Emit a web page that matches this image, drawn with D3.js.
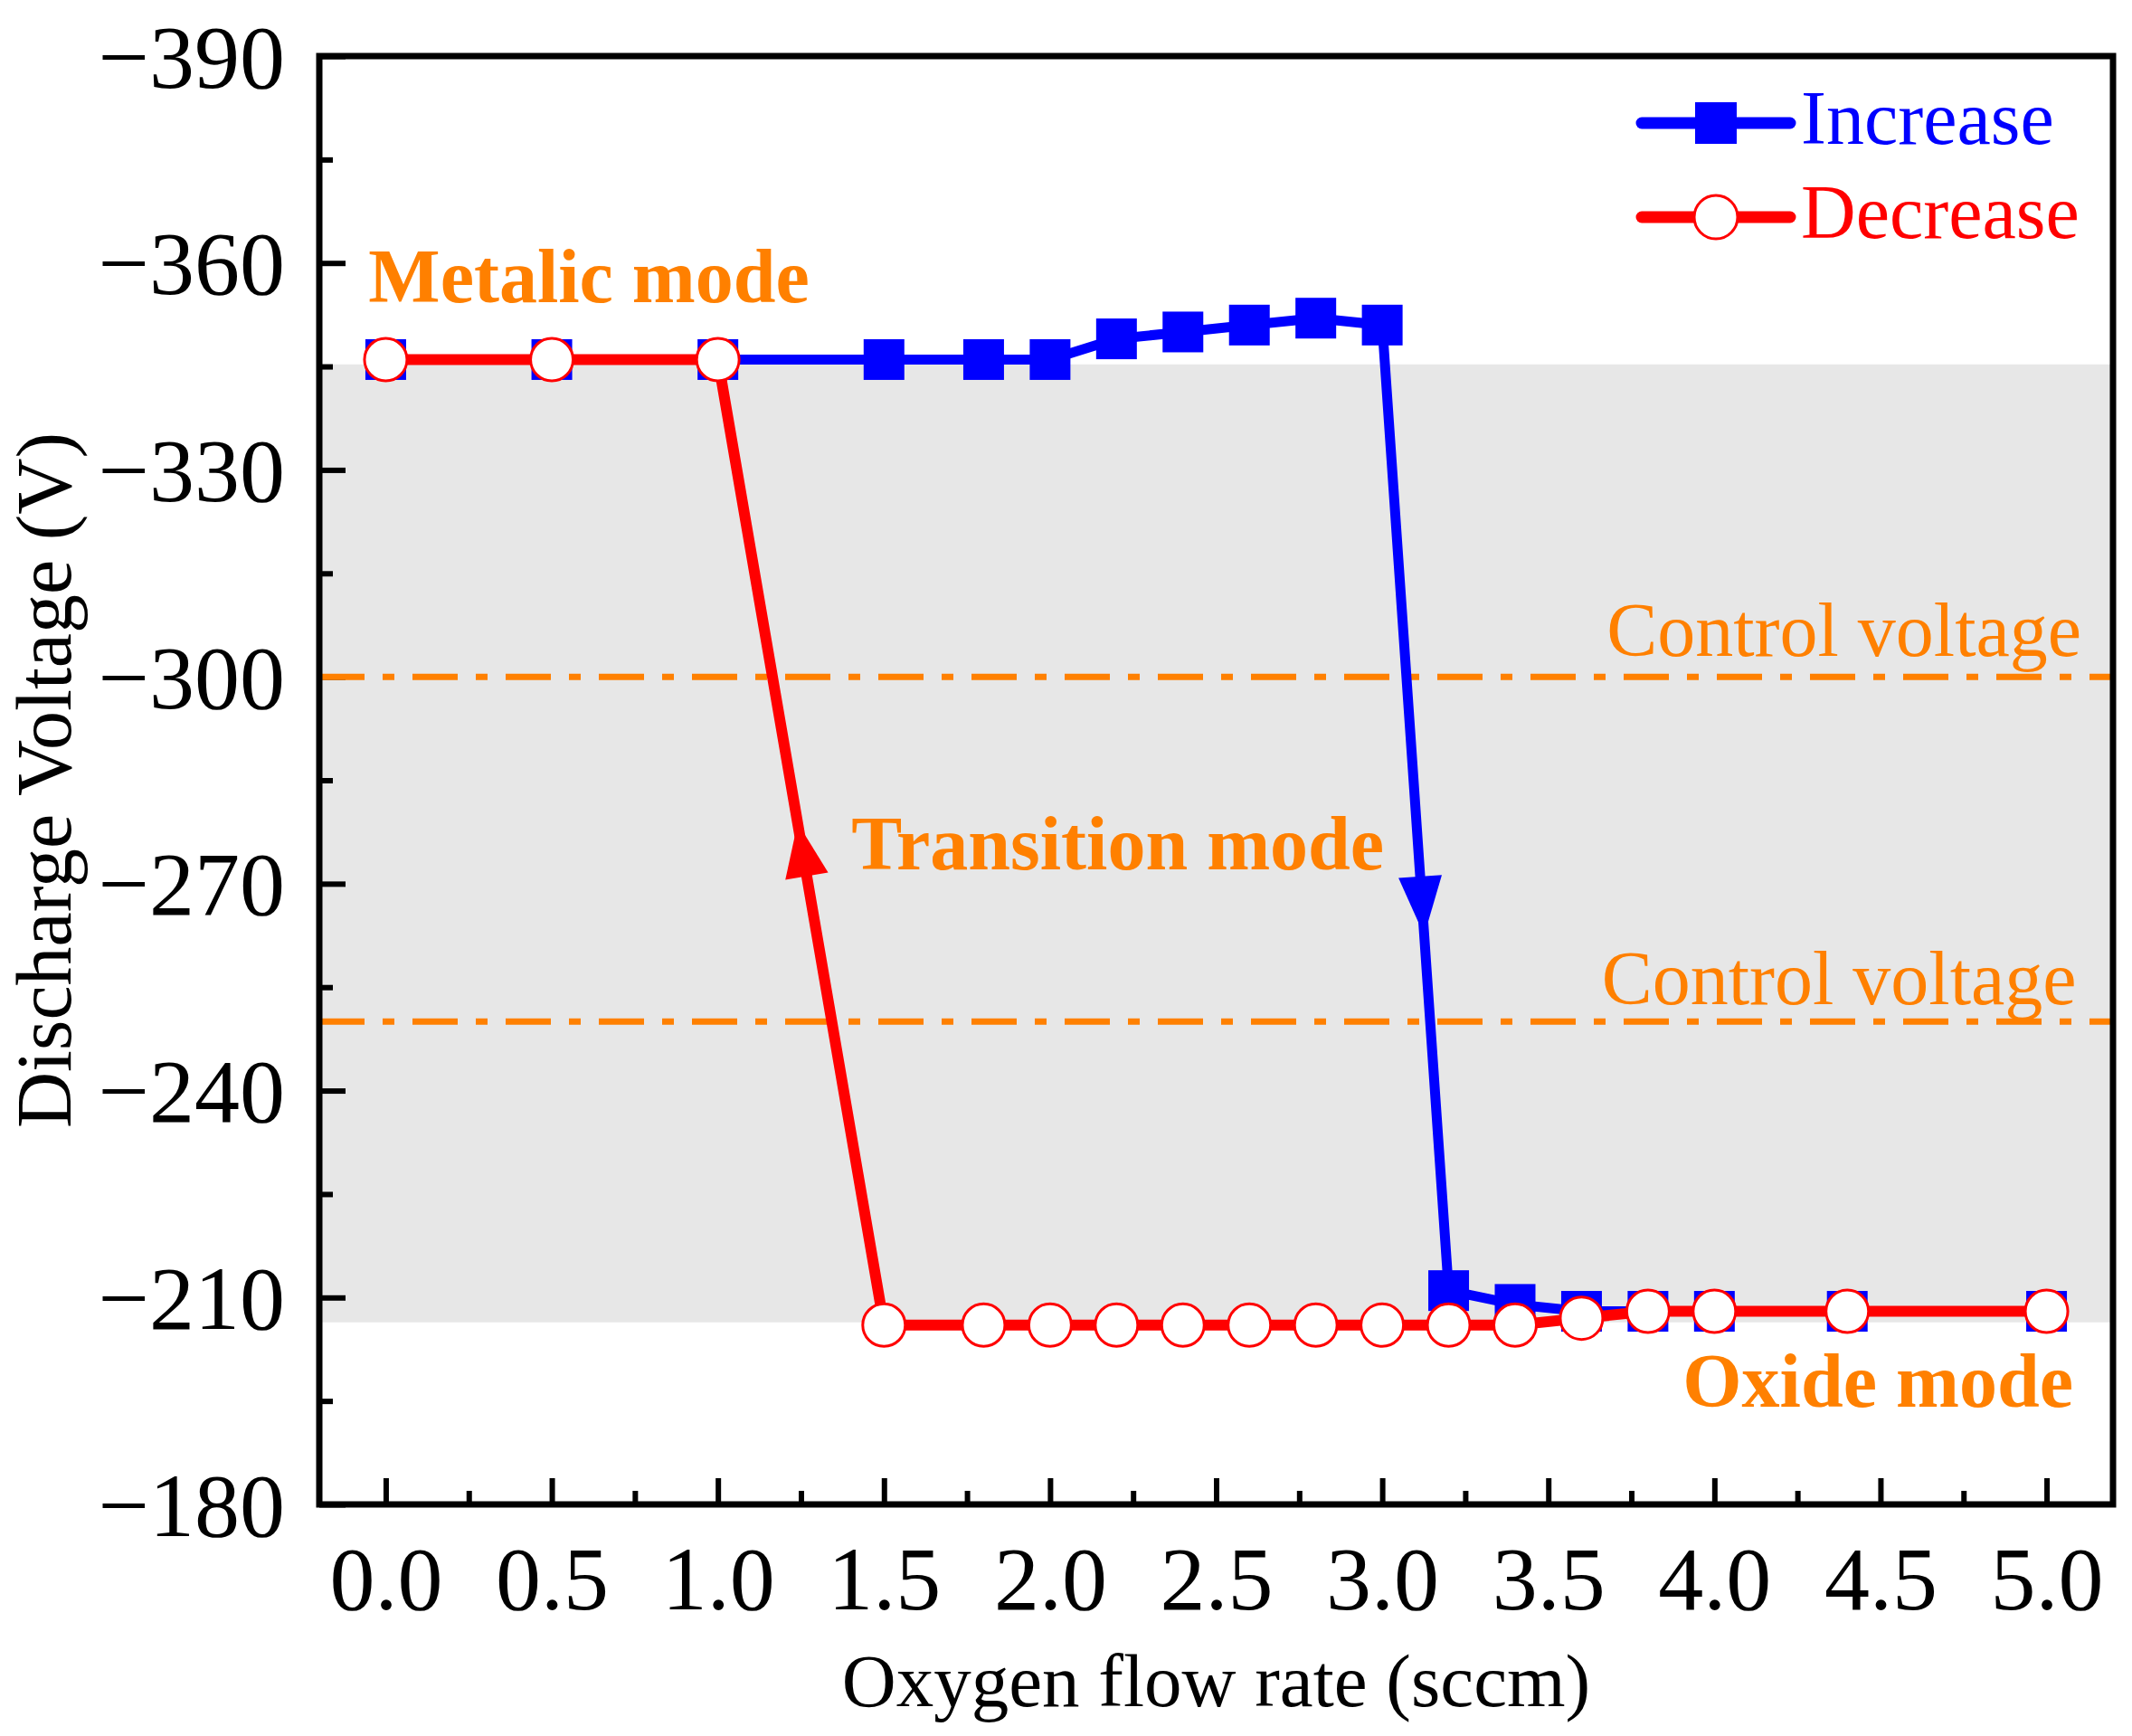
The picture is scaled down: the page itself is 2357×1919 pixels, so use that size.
<!DOCTYPE html>
<html>
<head>
<meta charset="utf-8">
<script src="https://cdn.jsdelivr.net/npm/d3@7"></script>
<style>
  body { margin: 0; background: #fff; }
  text { font-family: "Liberation Serif", "Times New Roman", serif; }
</style>
</head>
<body>
<svg id="chart" width="2357" height="1919"></svg>
<script>
// data
const flowInc = [0, 0.5, 1.0, 1.5, 1.8, 2.0, 2.2, 2.4, 2.6, 2.8, 3.0, 3.2, 3.4, 3.6, 3.8, 4.0, 4.4, 5.0];
const voltInc = [-346, -346, -346, -346, -346, -346, -349, -350, -351, -352, -351, -211, -209, -208, -208, -208, -208, -208];
const flowDec = [0, 0.5, 1.0, 1.5, 1.8, 2.0, 2.2, 2.4, 2.6, 2.8, 3.0, 3.2, 3.4, 3.6, 3.8, 4.0, 4.4, 5.0];
const voltDec = [-346, -346, -346, -206, -206, -206, -206, -206, -206, -206, -206, -206, -206, -207, -208, -208, -208, -208];
const controlVolts = [-300, -250];
const transitionBand = [-345.3, -206.4];
const xTicks = [0, 0.5, 1.0, 1.5, 2.0, 2.5, 3.0, 3.5, 4.0, 4.5, 5.0];
const yTicks = [-390, -360, -330, -300, -270, -240, -210, -180];

// direction arrows: segment from point i to point j, fractions along it
const arrows = [
  {series: "dec", from: 3, to: 2, tBase: 0.465, tTip: 0.52},
  {series: "inc", from: 10, to: 11, tBase: 0.571, tTip: 0.632}
];

const notes = [
  {text: "Metalic mode", x: -0.052, y: -354.3, anchor: "start", bold: true},
  {text: "Transition mode", x: 1.402, y: -272.1, anchor: "start", bold: true},
  {text: "Oxide mode", x: 5.08, y: -194.2, anchor: "end", bold: true},
  {text: "Control voltage", x: 5.105, y: -303.0, anchor: "end", bold: false},
  {text: "Control voltage", x: 5.09, y: -252.5, anchor: "end", bold: false}
];

const BLUE = "#0000ff", RED = "#ff0000", ORANGE = "#ff8000";

const svg = d3.select("#chart");
const plot = {left: 353, right: 2336, top: 62, bottom: 1663};

const x = d3.scaleLinear().domain([-0.2, 5.2]).range([plot.left, plot.right]);
const y = d3.scaleLinear().domain([-390, -180]).range([plot.top, plot.bottom]);

// grey transition band
svg.append("rect")
  .attr("x", plot.left).attr("width", plot.right - plot.left)
  .attr("y", y(transitionBand[0]))
  .attr("height", y(transitionBand[1]) - y(transitionBand[0]))
  .attr("fill", "#e7e7e7");

// axes with inward ticks
const yAxis = d3.axisLeft(y)
  .tickValues(d3.range(-390, -179, 15))
  .tickSize(-15)
  .tickFormat(d => yTicks.includes(d) ? d3.format("d")(d) : "");
const gy = svg.append("g").attr("transform", `translate(${plot.left},0)`).call(yAxis);
gy.selectAll(".tick line")
  .attr("x2", d => yTicks.includes(d) ? 29 : 15)
  .attr("stroke-width", 6);

const xAxis = d3.axisBottom(x)
  .tickValues(d3.range(0, 5.01, 0.25))
  .tickSize(-15)
  .tickFormat(d => xTicks.some(t => Math.abs(t - d) < 1e-6) ? d3.format(".1f")(d) : "");
const gx = svg.append("g").attr("transform", `translate(0,${plot.bottom})`).call(xAxis);
gx.selectAll(".tick line")
  .attr("y2", d => xTicks.some(t => Math.abs(t - d) < 1e-6) ? -29 : -15)
  .attr("stroke-width", 6);

svg.selectAll(".domain").remove();
gy.selectAll(".tick text")
  .attr("x", -38).attr("dy", "0.34em")
  .style("font-size", "100px").attr("fill", "#000");
gx.selectAll(".tick text")
  .attr("y", 45).attr("dy", "0.71em")
  .style("font-size", "100px").attr("fill", "#000");
svg.selectAll(".tick line").attr("stroke", "#000");

// control voltage lines
svg.append("g").selectAll("line")
  .data(controlVolts)
  .join("line")
  .attr("x1", plot.left).attr("x2", plot.right)
  .attr("y1", d => y(d)).attr("y2", d => y(d))
  .attr("stroke", ORANGE)
  .attr("stroke-width", 7)
  .attr("stroke-dasharray", "50,20,13,20");

const incPts = flowInc.map((f, i) => [f, voltInc[i]]);
const decPts = flowDec.map((f, i) => [f, voltDec[i]]);
const line = d3.line().x(d => x(d[0])).y(d => y(d[1]));

// increase series
svg.append("path")
  .attr("d", line(incPts))
  .attr("fill", "none").attr("stroke", BLUE)
  .attr("stroke-width", 11).attr("stroke-linejoin", "round");
svg.append("g").selectAll("rect")
  .data(incPts)
  .join("rect")
  .attr("x", d => x(d[0]) - 22.5).attr("y", d => y(d[1]) - 22.5)
  .attr("width", 45).attr("height", 45)
  .attr("fill", BLUE);

// decrease series
svg.append("path")
  .attr("d", line(decPts))
  .attr("fill", "none").attr("stroke", RED)
  .attr("stroke-width", 12).attr("stroke-linejoin", "round");
svg.append("g").selectAll("circle")
  .data(decPts)
  .join("circle")
  .attr("cx", d => x(d[0])).attr("cy", d => y(d[1]))
  .attr("r", 23.5)
  .attr("fill", "#fff").attr("stroke", RED).attr("stroke-width", 3);

// arrows along the transition segments
arrows.forEach(a => {
  const pts = a.series === "inc" ? incPts : decPts;
  const p0 = [x(pts[a.from][0]), y(pts[a.from][1])];
  const p1 = [x(pts[a.to][0]), y(pts[a.to][1])];
  const at = t => [p0[0] + (p1[0] - p0[0]) * t, p0[1] + (p1[1] - p0[1]) * t];
  const b = at(a.tBase), tip = at(a.tTip);
  const dx = tip[0] - b[0], dy = tip[1] - b[1];
  const len = Math.hypot(dx, dy);
  const nx = -dy / len * 24, ny = dx / len * 24;
  svg.append("path")
    .attr("d", `M${tip[0]},${tip[1]}L${b[0] + nx},${b[1] + ny}L${b[0] - nx},${b[1] - ny}Z`)
    .attr("fill", a.series === "inc" ? BLUE : RED);
});

// frame
svg.append("rect")
  .attr("x", plot.left).attr("y", plot.top)
  .attr("width", plot.right - plot.left).attr("height", plot.bottom - plot.top)
  .attr("fill", "none").attr("stroke", "#000").attr("stroke-width", 7);

// annotations
svg.append("g").selectAll("text")
  .data(notes)
  .join("text")
  .attr("x", d => x(d.x)).attr("y", d => y(d.y))
  .attr("text-anchor", d => d.anchor)
  .attr("font-weight", d => d.bold ? "bold" : "normal")
  .attr("fill", ORANGE)
  .style("font-size", "84px")
  .text(d => d.text);

// legend
const legend = [
  {name: "Increase", color: BLUE, shape: "square", y: 136},
  {name: "Decrease", color: RED, shape: "circle", y: 240}
];
const lg = svg.append("g").selectAll("g").data(legend).join("g");
lg.append("line")
  .attr("x1", 1815).attr("x2", 1979)
  .attr("y1", d => d.y).attr("y2", d => d.y)
  .attr("stroke", d => d.color).attr("stroke-width", 13)
  .attr("stroke-linecap", "round");
lg.filter(d => d.shape === "square").append("rect")
  .attr("x", 1897 - 23).attr("y", d => d.y - 23)
  .attr("width", 46).attr("height", 46)
  .attr("fill", d => d.color);
lg.filter(d => d.shape === "circle").append("circle")
  .attr("cx", 1897).attr("cy", d => d.y).attr("r", 24)
  .attr("fill", "#fff").attr("stroke", d => d.color).attr("stroke-width", 3);
lg.append("text")
  .attr("x", 1991).attr("y", d => d.y + 23)
  .attr("fill", d => d.color)
  .style("font-size", "84px")
  .text(d => d.name);

// axis titles
svg.append("text")
  .attr("x", (plot.left + plot.right) / 2).attr("y", 1886)
  .attr("text-anchor", "middle")
  .style("font-size", "83px")
  .text("Oxygen flow rate (sccm)");
svg.append("text")
  .attr("transform", `translate(78,${(plot.top + plot.bottom) / 2}) rotate(-90)`)
  .attr("text-anchor", "middle")
  .style("font-size", "86px")
  .text("Discharge Voltage (V)");
</script>
</body>
</html>
